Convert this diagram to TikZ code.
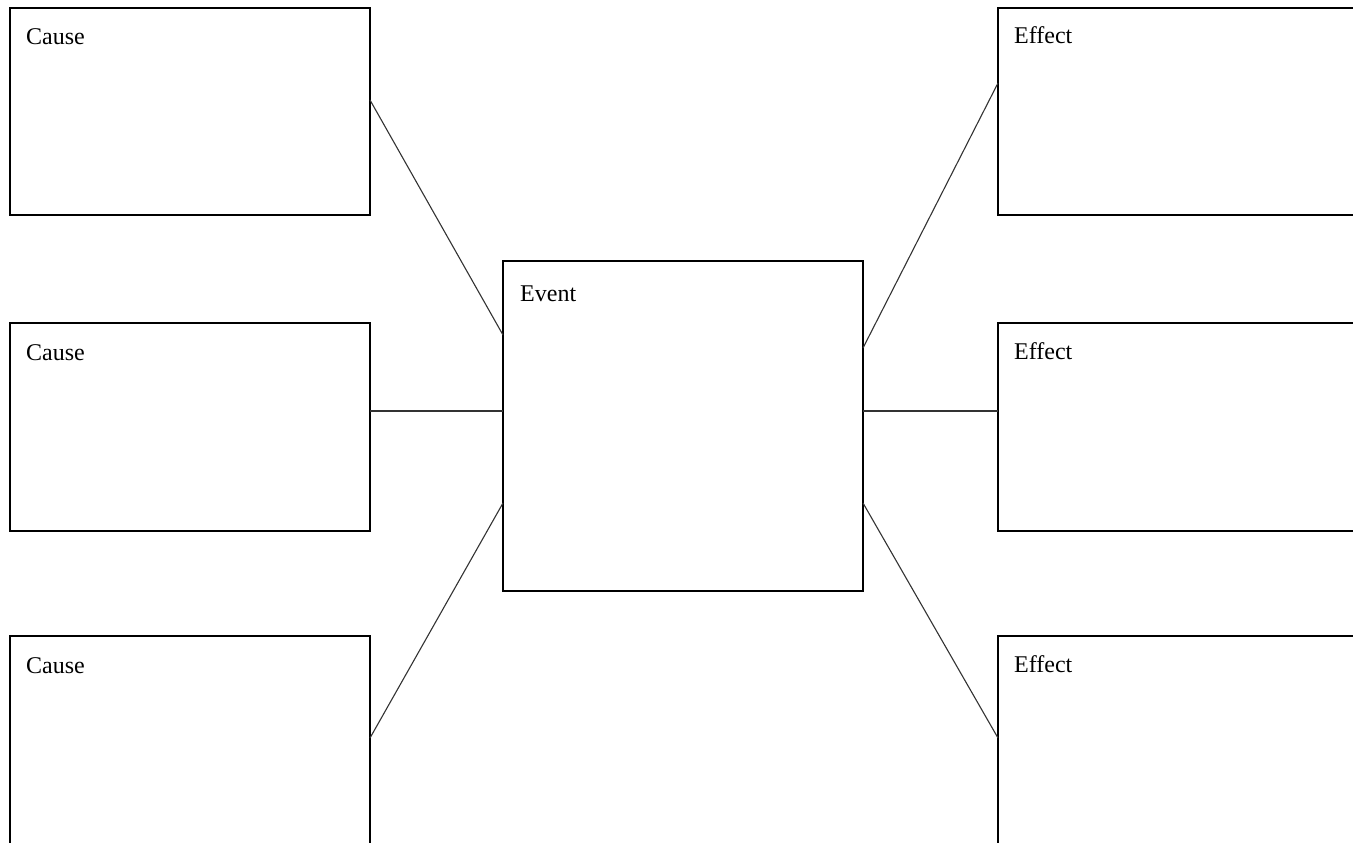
\documentclass[tikz,border=0pt]{standalone}
\usepackage{fontspec}
\setmainfont{Liberation Serif}
\begin{document}
\begin{tikzpicture}[x=1pt,y=-1pt]
\tikzset{
  box/.style={draw=black, line width=1.4pt, minimum width=360pt, anchor=north west, inner sep=0pt, outer sep=0pt},
  lbl/.style={anchor=base west, font=\fontsize{24}{28}\selectfont, inner sep=0pt},
  link/.style={draw=black!80, line width=1.1pt}
}
\useasboundingbox (0,0) rectangle (1353,843);
\clip (0,0) rectangle (1353,843);
\fill[white] (0,0) rectangle (1353,843);
% causes
\node[box, minimum height=207pt] (c1) at (10,8) {};
\node[box, minimum height=208pt] (c2) at (10,323) {};
\node[box, minimum height=215pt] (c3) at (10,636) {};
% event
\node[box, minimum height=330pt] (ev) at (503,261) {};
% effects
\node[box, minimum height=207pt, minimum width=370pt] (e1) at (998,8) {};
\node[box, minimum height=208pt, minimum width=370pt] (e2) at (998,323) {};
\node[box, minimum height=215pt, minimum width=370pt] (e3) at (998,636) {};
% labels
\node[lbl] (t1) at ([xshift=16pt,yshift=-37pt]c1.north west) {Cause};
\node[lbl] (t2) at ([xshift=16pt,yshift=-37pt]c2.north west) {Cause};
\node[lbl] (t3) at ([xshift=16pt,yshift=-37pt]c3.north west) {Cause};
\node[lbl] (tev) at ([xshift=17pt,yshift=-40pt]ev.north west) {Event};
\node[lbl] (t4) at ([xshift=16pt,yshift=-36pt]e1.north west) {Effect};
\node[lbl] (t5) at ([xshift=16pt,yshift=-36pt]e2.north west) {Effect};
\node[lbl] (t6) at ([xshift=16pt,yshift=-36pt]e3.north west) {Effect};
% connectors
\draw[link] ([yshift=-92pt]c1.north east) -- ([yshift=-74pt]ev.north west);
\draw[link] ([yshift=-88pt]c2.north east) -- ([yshift=-150pt]ev.north west);
\draw[link] ([yshift=-102pt]c3.north east) -- ([yshift=-242pt]ev.north west);
\draw[link] ([yshift=-87pt]ev.north east) -- ([yshift=-75pt]e1.north west);
\draw[link] ([yshift=-150pt]ev.north east) -- ([yshift=-88pt]e2.north west);
\draw[link] ([yshift=-242pt]ev.north east) -- ([yshift=-102pt]e3.north west);
\end{tikzpicture}
\end{document}
